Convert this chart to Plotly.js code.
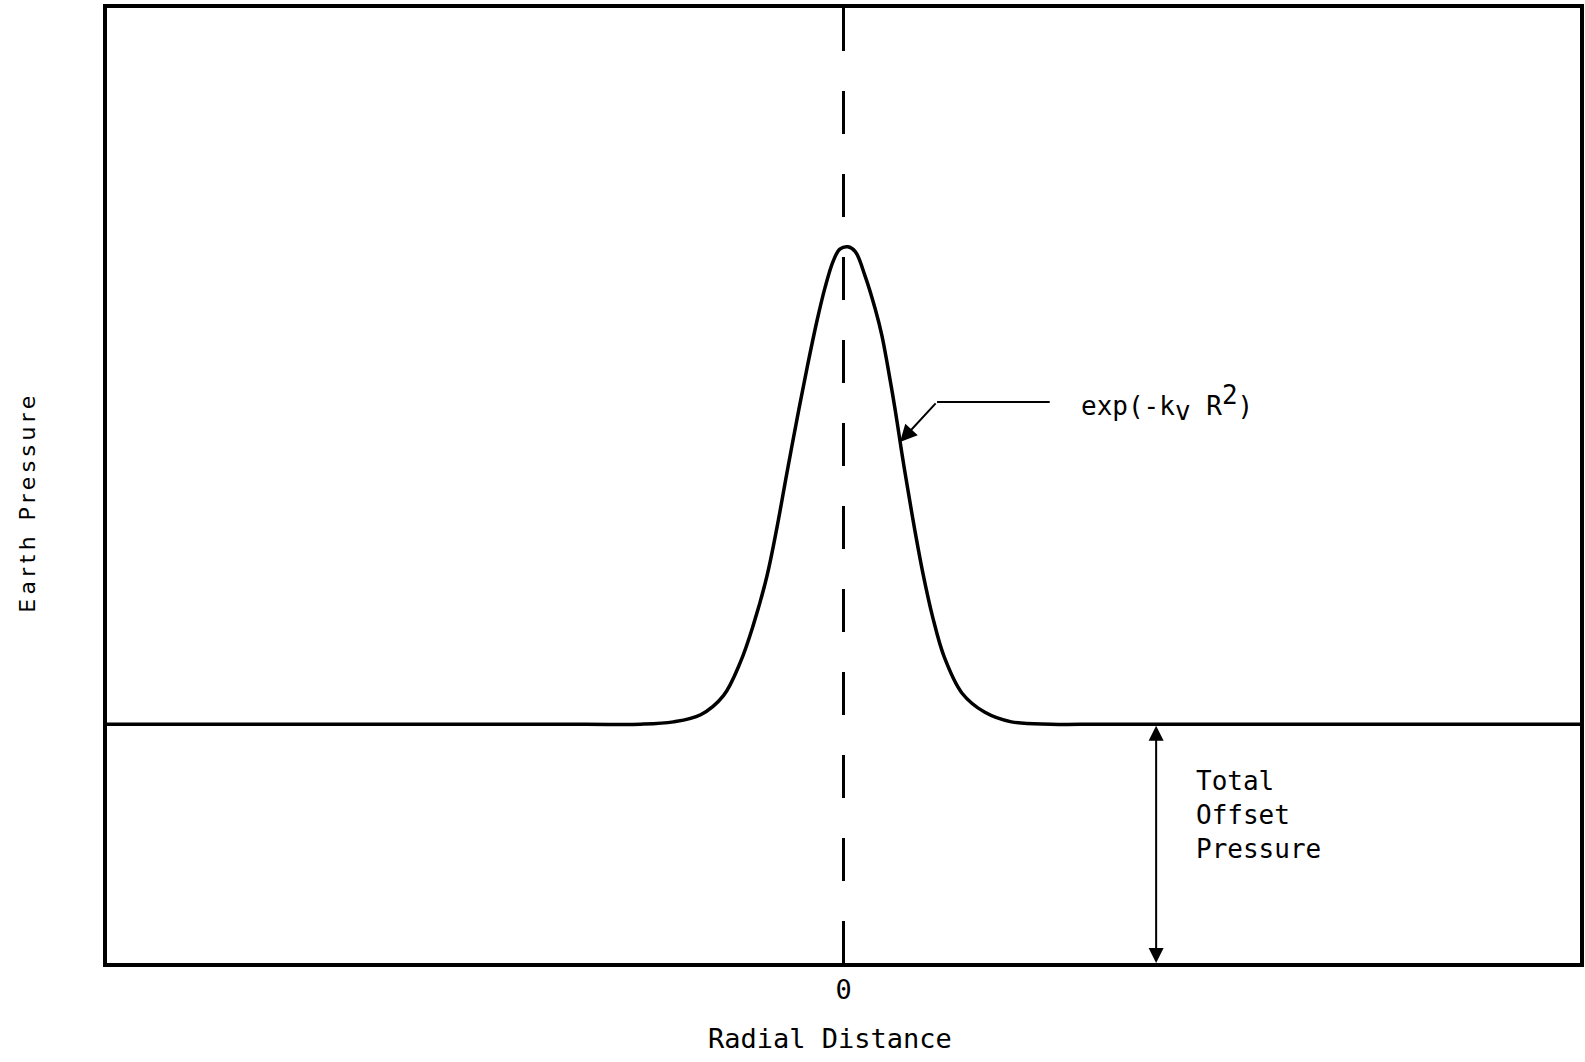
<!DOCTYPE html>
<html>
<head>
<meta charset="utf-8">
<script src="https://cdn.plot.ly/plotly-3.0.1.min.js"></script>
<style>
  html, body { margin: 0; padding: 0; background: #fff; }
  #chart { width: 1585px; height: 1062px; }
  .annotation[data-index="0"] text { letter-spacing: 4.4px; }
</style>
</head>
<body>
<div id="chart"></div>
<script>
// Values
const radialDistance = [-10, -6, -3.5, -2.76, -2.31, -1.94, -1.63, -1.40, -1.23, -1.04, -0.90, -0.77, -0.63, -0.49, -0.36, -0.25, -0.14, -0.05, 0.06, 0.16, 0.29, 0.43, 0.52, 0.60, 0.70, 0.79, 0.87, 0.97, 1.08, 1.21, 1.37, 1.61, 1.92, 2.28, 2.82, 3.5, 6, 10];
const earthPressure = [1.00, 1.00, 1.00, 1.00, 1.01, 1.04, 1.12, 1.26, 1.41, 1.62, 1.83, 2.05, 2.28, 2.50, 2.69, 2.83, 2.94, 2.99, 3.00, 2.98, 2.88, 2.74, 2.63, 2.50, 2.32, 2.14, 1.99, 1.81, 1.63, 1.45, 1.28, 1.13, 1.05, 1.01, 1.00, 1.00, 1.00, 1.00];
const offsetPressure = 1.0;
const tickValues = [0];
const tickLabels = ['0'];

const mono = 'DejaVu Sans Mono, monospace';

const trace = {
  x: radialDistance,
  y: earthPressure,
  type: 'scatter',
  mode: 'lines',
  line: { color: '#000', width: 3.5, shape: 'spline', smoothing: 1.0 },
  hoverinfo: 'skip'
};

const layout = {
  width: 1585,
  height: 1062,
  margin: { l: 107, r: 5, t: 8, b: 99, pad: 0 },
  paper_bgcolor: '#fff',
  plot_bgcolor: '#fff',
  showlegend: false,
  xaxis: {
    range: [-10, 10],
    showgrid: false,
    zeroline: false,
    showline: true,
    mirror: true,
    linecolor: '#000',
    linewidth: 4,
    ticks: '',
    tickvals: tickValues,
    ticktext: tickLabels,
    tickfont: { family: mono, size: 27, color: '#000' },
    fixedrange: true
  },
  yaxis: {
    range: [0, 4],
    showgrid: false,
    zeroline: false,
    showline: true,
    mirror: true,
    linecolor: '#000',
    linewidth: 4,
    ticks: '',
    showticklabels: false,
    fixedrange: true
  },
  shapes: [
    { type: 'line', xref: 'x', yref: 'y', x0: 0, x1: 0, y0: 4, y1: 0,
      line: { color: '#000', width: 3, dash: '43px,40px' } },
    { type: 'line', xref: 'x', yref: 'y', x0: 1.27, x1: 2.80, y0: 2.35, y1: 2.35,
      line: { color: '#000', width: 2 } }
  ],
  annotations: [
    { text: 'Earth Pressure', xref: 'paper', yref: 'paper', x: -0.0543, y: 0.4827,
      xanchor: 'center', yanchor: 'middle', textangle: -90, showarrow: false,
      font: { family: 'DejaVu Sans, sans-serif', size: 22, color: '#000' } },
    { text: 'Radial Distance', xref: 'x', yref: 'paper', x: -0.18, y: 0, yshift: -75,
      xanchor: 'center', yanchor: 'middle', showarrow: false,
      font: { family: mono, size: 27, color: '#000' } },
    { text: 'exp(-k<sub><span style="font-size:26px">v</span></sub> R<sup><span style="font-size:26px">2</span></sup>)',
      xref: 'x', yref: 'y', x: 3.20, y: 2.346,
      xanchor: 'left', yanchor: 'middle', showarrow: false,
      font: { family: mono, size: 26, color: '#000' } },
    { text: '', xref: 'x', yref: 'y', x: 0.767, y: 2.182, axref: 'x', ayref: 'y', ax: 1.27, ay: 2.35,
      showarrow: true, arrowhead: 2, arrowsize: 1.7, arrowwidth: 2, arrowcolor: '#000', standoff: 0 },
    { text: 'Total<br>Offset<br>Pressure', xref: 'x', yref: 'y', x: 4.759, y: 0.62,
      xanchor: 'left', yanchor: 'middle', align: 'left', showarrow: false,
      font: { family: mono, size: 26, color: '#000' } },
    { text: '', xref: 'x', yref: 'y', x: 4.245, y: 0, axref: 'x', ayref: 'y', ax: 4.245, ay: offsetPressure,
      showarrow: true, arrowside: 'end+start', arrowhead: 2, arrowsize: 1.5, arrowwidth: 2,
      arrowcolor: '#000', standoff: 0, startstandoff: 0 }
  ]
};

Plotly.newPlot('chart', [trace], layout, { staticPlot: true, displayModeBar: false });
</script>
</body>
</html>
